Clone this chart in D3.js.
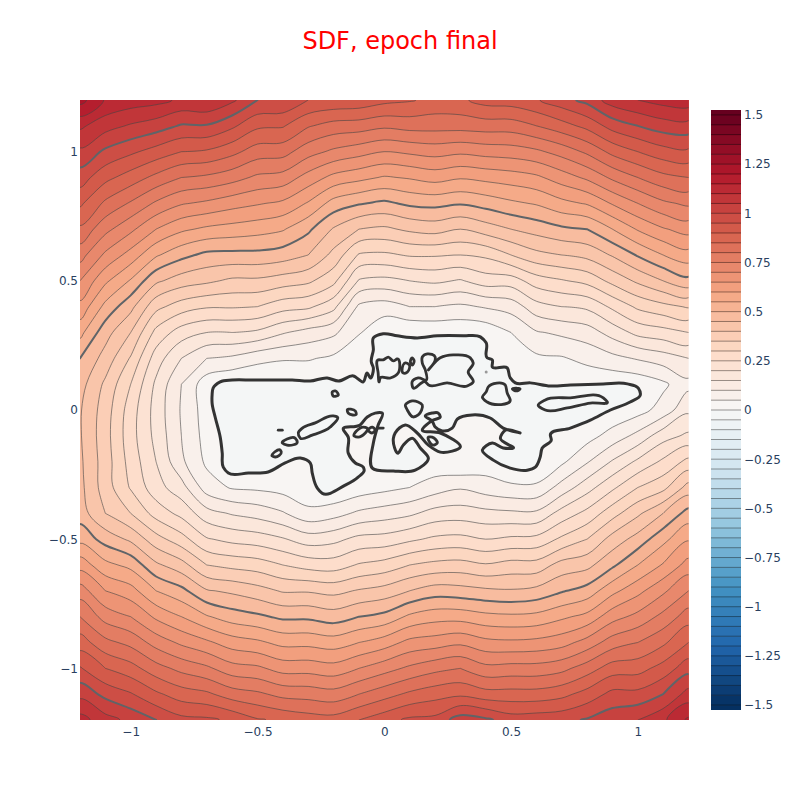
<!DOCTYPE html>
<html>
<head>
<meta charset="utf-8">
<script src="https://cdn.jsdelivr.net/npm/d3@7"></script>
<style>
body { margin: 0; background: #fff; }
text { font-family: "DejaVu Sans", sans-serif; }
</style>
</head>
<body>
<script>
// grid axes of the sdf
var gridX = [-1.2,-1.1,-1,-0.9,-0.8,-0.7,-0.6,-0.5,-0.4,-0.3,-0.2,-0.1,0,0.1,0.2,0.3,0.4,0.5,0.6,0.7,0.8,0.9,1,1.1,1.2];
var gridY = [1.2,1.1,1,0.9,0.8,0.7,0.6,0.5,0.4,0.3,0.2,0.1,0,-0.1,-0.2,-0.3,-0.4,-0.5,-0.6,-0.7,-0.8,-0.9,-1,-1.1,-1.2];

// one list per x column, each going from y=1.2 down to y=-1.2
var sdfColumns = [
  [1.22,1.11,1.04,.975,.91,.84,.77,.70,.635,.565,.50,.47,.455,.455,.46,.465,.475,.535,.63,.725,.80,.875,.955,1.035,1.12],
  [1.145,1.07,.99,.915,.84,.765,.69,.61,.535,.47,.43,.39,.375,.37,.375,.375,.40,.48,.565,.65,.73,.815,.90,.985,1.07],
  [1.127,1.044,.96,.877,.794,.712,.63,.545,.465,.40,.345,.30,.275,.27,.28,.295,.35,.44,.535,.62,.70,.785,.87,.955,1.035],
  [1.117,1.024,.93,.836,.742,.65,.557,.46,.365,.285,.225,.19,.18,.185,.20,.22,.28,.37,.46,.55,.64,.73,.82,.91,1.0],
  [1.09,.995,.90,.80,.705,.61,.515,.425,.325,.225,.15,.10,.095,.10,.11,.17,.235,.32,.42,.515,.60,.69,.785,.875,.965],
  [1.097,.996,.893,.79,.69,.59,.487,.41,.305,.20,.10,.02,.025,.03,.04,.075,.17,.255,.35,.455,.555,.66,.76,.86,.96],
  [1.06,.96,.865,.77,.67,.58,.485,.39,.305,.20,.09,0,0,0,0,.045,.145,.235,.335,.44,.525,.625,.72,.825,.94],
  [1.0,.91,.825,.74,.655,.57,.485,.39,.30,.19,.065,0,0,0,0,.04,.13,.225,.325,.42,.51,.61,.71,.81,.905],
  [.995,.905,.82,.73,.64,.555,.475,.375,.27,.155,.055,0,0,0,0,.03,.105,.205,.30,.395,.49,.585,.68,.785,.89],
  [.95,.855,.77,.68,.595,.51,.45,.36,.26,.13,.055,0,0,0,0,.01,.065,.175,.28,.395,.49,.585,.68,.78,.875],
  [.94,.83,.74,.635,.53,.445,.385,.315,.215,.11,.04,0,0,0,0,0,.08,.185,.275,.385,.475,.575,.67,.77,.87],
  [.935,.825,.72,.615,.505,.40,.295,.195,.09,.055,0,0,0,0,0,.02,.11,.215,.305,.405,.50,.60,.70,.80,.90],
  [.915,.81,.70,.595,.49,.39,.29,.185,.075,.01,0,0,0,0,0,.035,.125,.22,.32,.42,.515,.625,.73,.83,.93],
  [.905,.82,.71,.605,.51,.41,.305,.20,.10,.005,0,0,0,0,0,.05,.14,.24,.35,.45,.56,.665,.76,.86,.96],
  [.885,.82,.72,.62,.515,.42,.305,.21,.10,.01,0,0,0,0,.015,.075,.17,.26,.365,.475,.58,.675,.785,.88,.965],
  [.89,.82,.71,.605,.505,.40,.30,.195,.09,.01,0,0,0,0,0,.095,.175,.265,.37,.47,.58,.69,.80,.89,1.025],
  [.92,.825,.72,.615,.52,.425,.31,.225,.105,.015,0,0,0,0,.02,.075,.165,.25,.355,.46,.565,.665,.765,.87,1.01],
  [.925,.825,.725,.625,.54,.45,.35,.225,.12,.05,.035,0,0,0,0,.06,.16,.26,.37,.455,.56,.66,.77,.87,.975],
  [.945,.85,.74,.64,.555,.47,.385,.275,.18,.095,.04,0,0,0,0,.06,.16,.265,.37,.465,.565,.665,.77,.87,.98],
  [.98,.88,.77,.675,.585,.49,.40,.295,.20,.11,.045,.01,0,.015,.04,.12,.22,.31,.42,.495,.59,.68,.785,.885,.985],
  [1.015,.915,.81,.71,.605,.50,.415,.315,.21,.125,.065,.01,0,.03,.095,.18,.265,.35,.435,.52,.615,.72,.825,.92,1.005],
  [1.075,.97,.865,.76,.655,.55,.455,.365,.26,.17,.085,.01,.01,.07,.155,.24,.33,.42,.49,.585,.68,.775,.875,.965,1.03],
  [1.10,1.0,.90,.80,.70,.605,.505,.41,.31,.215,.105,.015,.03,.115,.21,.30,.39,.47,.55,.635,.715,.80,.88,.965,1.05],
  [1.12,1.025,.93,.835,.74,.645,.55,.45,.335,.23,.125,.04,.07,.18,.26,.335,.45,.535,.605,.69,.765,.84,.92,1.0,1.09],
  [1.13,1.03,.94,.85,.76,.67,.58,.485,.355,.25,.15,.085,.14,.21,.315,.42,.52,.595,.67,.75,.825,.90,.98,1.07,1.16]
];

// zero level set, the coastline, [x, y]
var zeroCoast = [[-.679,.058],[-.675,.085],[-.647,.109],[-.600,.116],[-.521,.116],[-.442,.116],[-.363,.116],[-.292,.112],[-.225,.124],[-.181,.112],[-.122,.132],[-.083,.109],[-.067,.143],[-.055,.124],[-.043,.163],[-.051,.186],[-.043,.233],[-.043,.279],[-.004,.295],[.051,.287],[.130,.279],[.209,.287],[.312,.287],[.379,.283],[.402,.260],[.406,.202],[.426,.194],[.426,.167],[.485,.163],[.497,.124],[.517,.105],[.576,.105],[.655,.093],[.734,.097],[.864,.101],[.959,.101],[1.002,.085],[1.010,.058],[.970,.031],[.892,0],[.813,-.039],[.734,-.070],[.655,-.097],[.659,-.116],[.623,-.147],[.615,-.182],[.596,-.221],[.564,-.233],[.497,-.225],[.430,-.194],[.387,-.155],[.426,-.128],[.469,-.147],[.509,-.147],[.458,-.109],[.477,-.078],[.536,-.089],[.469,-.070],[.418,-.031],[.347,-.019],[.288,-.035],[.268,-.070],[.229,-.081],[.201,-.066],[.189,-.043],[.162,-.023],[.189,-.012],[.213,-.012],[.221,-.027],[.193,-.039],[.150,-.078],[.221,-.089],[.300,-.143],[.221,-.163],[.174,-.136],[.130,-.089],[.083,-.058],[.043,-.089],[.036,-.109],[.055,-.167],[.075,-.136],[.110,-.109],[.142,-.147],[.174,-.186],[.122,-.233],[.036,-.236],[-.047,-.225],[-.043,-.128],[-.024,-.058],[-.008,-.012],[-.036,-.012],[-.067,-.027],[-.095,-.058],[-.162,-.074],[-.142,-.105],[-.142,-.167],[-.114,-.205],[-.083,-.221],[-.079,-.233],[-.103,-.260],[-.154,-.291],[-.245,-.322],[-.264,-.302],[-.284,-.244],[-.292,-.205],[-.331,-.186],[-.391,-.205],[-.458,-.240],[-.536,-.244],[-.615,-.244],[-.635,-.221],[-.639,-.167],[-.647,-.105],[-.667,-.027],[-.679,.027]];
var zeroRings = [
  [[-.024,.194],[-.004,.194],[.016,.205],[.036,.190],[.051,.198],[.055,.143],[.024,.124],[-.016,.124],[-.020,.109],[-.024,.143]],
  [[.071,.163],[.083,.182],[.099,.174],[.091,.147],[.075,.143]],
  [[.110,.202],[.118,.190],[.110,.174],[.103,.186]],
  [[.150,.205],[.170,.217],[.201,.205],[.201,.194],[.174,.155],[.221,.202],[.272,.213],[.339,.202],[.351,.182],[.331,.147],[.351,.109],[.327,.093],[.248,.105],[.174,.097],[.162,.109],[.114,.085],[.110,.109],[.134,.124],[.166,.116],[.162,.155],[.150,.182]],
  [[.410,.089],[.477,.097],[.485,.066],[.497,.039],[.406,.031],[.387,.050],[.402,.070]],
  [[.505,.081],[.521,.085],[.536,.081],[.521,.074]],
  [[.607,.019],[.635,.039],[.734,.047],[.864,.047],[.880,.031],[.813,.027],[.722,.008],[.635,0]],
  [[.083,.019],[.110,.035],[.150,.019],[.134,-.019],[.114,-.027],[.091,0]],
  [[-.205,.070],[-.193,.074],[-.181,.058],[-.201,.054]],
  [[-.146,0],[-.114,-.004],[-.110,-.016],[-.142,-.012]],
  [[-.323,-.070],[-.272,-.050],[-.201,-.023],[-.185,-.027],[-.213,-.066],[-.284,-.097],[-.331,-.109],[-.339,-.089]],
  [[-.402,-.128],[-.351,-.109],[-.343,-.124],[-.383,-.136]],
  [[-.442,-.178],[-.410,-.155],[-.406,-.163],[-.430,-.182]],
  [[-.418,-.078],[-.402,-.078]],
  [[.174,-.105],[.189,-.105],[.209,-.128],[.193,-.136]],
  [[-.118,-.101],[-.083,-.066],[-.067,-.070],[-.103,-.105]],
  [[-.063,-.078],[-.047,-.066],[-.036,-.078],[-.047,-.089]],
  [[-.028,-.070],[-.004,-.070]]
];
var strayPoint = [.402,.147];

var axisTicks = [-1,-0.5,0,0.5,1];
var barTicks = [-1.5,-1.25,-1,-0.75,-0.5,-0.25,0,0.25,0.5,0.75,1,1.25,1.5];
var colorStops = [-1.5,-1.2,-0.9,-0.6,-0.3,0,0.3,0.6,0.9,1.2,1.5];
var colorValues = ["#053061","#2166ac","#4393c3","#92c5de","#d1e5f0","#f7f7f7","#fddbc7","#f4a582","#d6604d","#b2182b","#67001f"];
var levelStep = 0.05;
var boldLevels = [0.5,1];

var width = 800, height = 800;
var svg = d3.select("body").append("svg").attr("width", width).attr("height", height);

var x = d3.scaleLinear().domain([-1.2,1.2]).range([80,688.5]);
var y = d3.scaleLinear().domain([-1.2,1.2]).range([720,100]);
var colour = d3.scaleLinear().domain(colorStops).range(colorValues);

function tickText(d) { return String(d).replace("-", "\u2212"); }

// flatten to the row order d3.contours wants
var values = [];
gridY.forEach(function(_, r) {
  gridX.forEach(function(_, c) { values.push(sdfColumns[c][r]); });
});

// contour coordinates have grid point i sitting at i+0.5
var gx = d3.scaleLinear().domain([0.5, gridX.length - 0.5]).range([x(gridX[0]), x(gridX[gridX.length-1])]);
var gy = d3.scaleLinear().domain([0.5, gridY.length - 0.5]).range([y(gridY[0]), y(gridY[gridY.length-1])]);

// marching squares gives corners at every grid cell, round them off
var ringLine = d3.line()
  .x(function(d) { return gx(d[0]); })
  .y(function(d) { return gy(d[1]); })
  .curve(d3.curveCatmullRomClosed.alpha(0.5));
function bandPath(d) {
  var out = "";
  d.coordinates.forEach(function(polygon) {
    polygon.forEach(function(ring) { out += ringLine(ring.slice(0, -1)); });
  });
  return out;
}

var levels = d3.range(1, 27).map(function(i) { return +(i * levelStep).toFixed(2); });
var bands = d3.contours().size([gridX.length, gridY.length]).thresholds(levels)(values);

svg.append("clipPath").attr("id", "plot-clip").append("rect")
  .attr("x", x(-1.2)).attr("y", y(1.2))
  .attr("width", x(1.2) - x(-1.2)).attr("height", y(-1.2) - y(1.2));

var plot = svg.append("g").attr("clip-path", "url(#plot-clip)");

plot.append("rect")
  .attr("x", x(-1.2)).attr("y", y(1.2))
  .attr("width", x(1.2) - x(-1.2)).attr("height", y(-1.2) - y(1.2))
  .attr("fill", colour(levelStep / 2));

plot.selectAll(".band").data(bands).enter().append("path")
  .attr("class", "band")
  .attr("d", bandPath)
  .attr("fill-rule", "evenodd")
  .attr("fill", function(d) { return colour(d.value + levelStep / 2); })
  .attr("stroke", "none");

plot.selectAll(".level").data(bands).enter().append("path")
  .attr("class", "level")
  .attr("d", bandPath)
  .attr("fill", "none")
  .attr("stroke", function(d) { return boldLevels.indexOf(d.value) > -1 ? "#5f6468" : "#444"; })
  .attr("stroke-width", function(d) { return boldLevels.indexOf(d.value) > -1 ? 2 : 0.6; });

// coastline on top, inside is the band just below zero
var line = d3.line().x(function(d) { return x(d[0]); }).y(function(d) { return y(d[1]); });
var closedLine = d3.line().x(function(d) { return x(d[0]); }).y(function(d) { return y(d[1]); }).curve(d3.curveCatmullRomClosed.alpha(1));

plot.append("path")
  .attr("d", closedLine(zeroCoast))
  .attr("fill", colour(-levelStep / 2))
  .attr("stroke", "#333")
  .attr("stroke-width", 3)
  .attr("stroke-linejoin", "round");

plot.selectAll(".ring").data(zeroRings).enter().append("path")
  .attr("class", "ring")
  .attr("d", function(d) { return d.length < 3 ? line(d) : closedLine(d); })
  .attr("fill", "none")
  .attr("stroke", "#333")
  .attr("stroke-width", 2.8)
  .attr("stroke-linecap", "round")
  .attr("stroke-linejoin", "round");

plot.append("circle")
  .attr("cx", x(strayPoint[0])).attr("cy", y(strayPoint[1])).attr("r", 1.5)
  .attr("fill", "#999");

// axes, plotly style without lines
var xAxis = svg.append("g")
  .attr("transform", "translate(0,720)")
  .call(d3.axisBottom(x).tickValues(axisTicks).tickSize(0).tickPadding(7).tickFormat(tickText));
var yAxis = svg.append("g")
  .attr("transform", "translate(80,0)")
  .call(d3.axisLeft(y).tickValues(axisTicks).tickSize(0).tickPadding(2).tickFormat(tickText));

// colorbar
var barY = d3.scaleLinear().domain([-1.525,1.525]).range([710,110]);
var barLevels = d3.range(-32, 31).map(function(i) { return +(i * levelStep).toFixed(2); });
svg.append("clipPath").attr("id", "bar-clip").append("rect")
  .attr("x", 711).attr("y", 110).attr("width", 30).attr("height", 600);
var bar = svg.append("g").attr("clip-path", "url(#bar-clip)");
bar.selectAll(".bar-band").data(barLevels).enter().append("rect")
  .attr("class", "bar-band")
  .attr("x", 711).attr("width", 30)
  .attr("y", function(d) { return barY(d + levelStep); })
  .attr("height", barY(0) - barY(levelStep) + 0.5)
  .attr("fill", function(d) { return colour(Math.max(-1.5, Math.min(1.5, d + levelStep / 2))); });
bar.selectAll(".bar-line").data(barLevels).enter().append("line")
  .attr("class", "bar-line")
  .attr("x1", 711).attr("x2", 741)
  .attr("y1", function(d) { return barY(d); })
  .attr("y2", function(d) { return barY(d); })
  .attr("stroke", "#000").attr("stroke-opacity", 0.4).attr("stroke-width", 1);

var barAxis = svg.append("g")
  .attr("transform", "translate(741,0)")
  .call(d3.axisRight(barY).tickValues(barTicks).tickSize(0).tickPadding(3).tickFormat(tickText));

[xAxis, yAxis, barAxis].forEach(function(a) {
  a.select(".domain").remove();
  a.selectAll("text").attr("fill", "#2a3f5f").style("font-size", "12px").style("font-family", "'DejaVu Sans', sans-serif");
});

svg.append("text")
  .attr("x", 400).attr("y", 49)
  .attr("text-anchor", "middle")
  .attr("fill", "red")
  .style("font-size", "24px")
  .text("SDF, epoch final");
</script>
</body>
</html>
